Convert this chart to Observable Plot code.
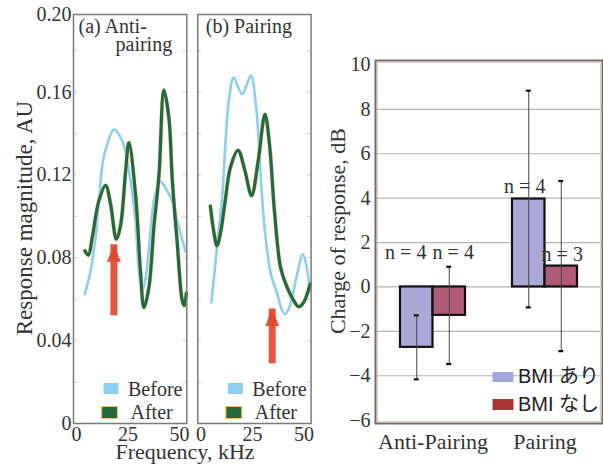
<!DOCTYPE html>
<html><head><meta charset="utf-8">
<script src="https://cdn.jsdelivr.net/npm/d3@7"></script>
<script src="https://cdn.jsdelivr.net/npm/@observablehq/plot@0.6"></script>
<style>
body{margin:0;background:#fff;}
#fig{position:relative;width:603px;height:466px;overflow:hidden;background:#fff;}
.lab{position:absolute;white-space:nowrap;font-family:"Liberation Serif",serif;color:#333;}
</style></head><body><div id="fig"></div>
<script>
// ---------- data: panel (a) Anti-pairing ----------
const freqBeforeA = [4, 6.8, 9.2, 10.8, 12.8, 14.9, 18.1, 22.2, 25.4, 28.6, 30.2, 31.9, 33.5, 35.9, 37.5, 40.6, 43, 46.5, 49.7, 52.9];
const magBeforeA  = [0.0625, 0.0737, 0.0898, 0.107, 0.1267, 0.1348, 0.142, 0.1364, 0.122, 0.0978, 0.0737, 0.064, 0.07, 0.093, 0.1075, 0.117, 0.114, 0.107, 0.0946, 0.083];
const freqAfterA  = [4, 5.7, 7.6, 10.8, 14.1, 16.5, 19.3, 21.4, 23.8, 25.4, 28.6, 31, 32.7, 35.1, 37.5, 40, 42.4, 44.8, 46.5, 48.9, 51.3, 52.3, 53.3];
const magAfterA   = [0.0834, 0.0813, 0.0898, 0.1075, 0.115, 0.1059, 0.089, 0.096, 0.122, 0.1356, 0.1107, 0.0737, 0.056, 0.0657, 0.0946, 0.12, 0.161, 0.1476, 0.117, 0.0866, 0.0593, 0.0569, 0.063];
// ---------- data: panel (b) Pairing ----------
const freqBeforeB = [5.1, 7, 8.6, 10.4, 11.9, 13.5, 15.9, 18, 20.1, 22.2, 24.3, 27, 28.6, 30.2, 31.6, 34, 37.1, 39.5, 41.1, 43.5, 46.7, 49.5, 51.4, 52.9];
const magBeforeB  = [0.0585, 0.077, 0.093, 0.11, 0.135, 0.1557, 0.167, 0.1625, 0.159, 0.1635, 0.168, 0.151, 0.127, 0.1027, 0.088, 0.072, 0.0625, 0.0545, 0.0529, 0.0577, 0.072, 0.0818, 0.0753, 0.064];
const freqAfterB  = [4.6, 6.2, 7.8, 9.4, 11.8, 14.3, 18, 21.4, 24.6, 27.8, 31.1, 33.3, 35.7, 38.7, 41.9, 45.1, 47.5, 49.9, 53];
const magAfterB   = [0.105, 0.093, 0.0858, 0.0914, 0.1075, 0.1235, 0.1319, 0.122, 0.11, 0.1267, 0.1493, 0.1348, 0.1027, 0.0753, 0.0657, 0.0593, 0.0564, 0.0585, 0.0673];
// arrows: frequency, tail and tip magnitude
const arrowFreq = [18.1, 34.6];
const arrowTail = [0.052, 0.0288];
const arrowTip  = [0.0863, 0.0553];
const panelTitles = [["(a) Anti-", "pairing"], ["(b) Pairing"]];
const lineSeries = ["Before", "After"];
const magTicks = [0, 0.04, 0.08, 0.12, 0.16];
const magTopTick = [0.2];
const minorMagTicks = [0.02, 0.04, 0.06, 0.08, 0.10, 0.12, 0.14, 0.16, 0.18];
const freqTicks = [0, 25, 50];

// ---------- data: bar chart ----------
const groups = ["Anti-Pairing", "Pairing"];
const barSeries = ["BMI あり", "BMI なし"];
const valuesAri  = [-2.72, 3.96];
const valuesNashi = [-1.28, 0.94];
const errAri  = [1.44, 4.88];
const errNashi = [2.19, 3.83];
const nAri  = [4, 4];
const nNashi = [4, 3];
const dbTicks = [-6, -4, -2, 0, 2, 4, 6, 8, 10];
const dbGrid = [-4, -2, 0, 2, 4, 6, 8];

const SERIF = '"Liberation Serif", "Times New Roman", serif';
const SANS = '"Liberation Sans", Arial, "Noto Sans CJK JP", sans-serif';
const BLUE = "#8ccff0", GREEN = "#1c6a46", HALO = "#f2c46e", RED = "#e4492c";

const rectSymbol = (w, h) => ({draw(ctx) { ctx.rect(-w / 2, -h / 2, w, h); }});
const headSymbol = {draw(ctx) { ctx.moveTo(0, 0); ctx.lineTo(7, 17); ctx.lineTo(-7, 17); ctx.closePath(); }};

const fig = document.getElementById("fig");
function place(el, left) {
  el.style.position = "absolute"; el.style.left = left + "px"; el.style.top = "0px";
  fig.appendChild(el);
}

function panel(k) {
  const before = (k === 0 ? freqBeforeA : freqBeforeB).map((f, i) => ({f, v: (k === 0 ? magBeforeA : magBeforeB)[i]}));
  const after = (k === 0 ? freqAfterA : freqAfterB).map((f, i) => ({f, v: (k === 0 ? magAfterA : magAfterB)[i]}));
  const arrow = [{f: arrowFreq[k], lo: arrowTail[k], hi: arrowTip[k]}];
  const ml = k === 0 ? 73 : 7.3;
  const width = k === 0 ? 190 : 124;
  const mr = width - ml - 113.3;
  const marks = [
    Plot.tickY(minorMagTicks, {y: d => d, stroke: "#cfcfcf", insetRight: 109.3}),
    Plot.tickY(minorMagTicks, {y: d => d, stroke: "#cfcfcf", insetLeft: 109.3}),
    Plot.line(before, {x: "f", y: "v", stroke: BLUE, strokeWidth: 2.6, curve: "catmull-rom"}),
    Plot.line(after, {x: "f", y: "v", stroke: HALO, strokeWidth: 4.2, strokeOpacity: 0.8, curve: "catmull-rom"}),
    Plot.line(after, {x: "f", y: "v", stroke: GREEN, strokeWidth: 3.2, curve: "catmull-rom"}),
    Plot.ruleX(arrow, {x: "f", y1: "lo", y2: "hi", stroke: RED, strokeWidth: 7, strokeOpacity: 0.92}),
    Plot.dot(arrow, {x: "f", y: "hi", symbol: headSymbol, fill: RED, fillOpacity: 0.92, stroke: "none"}),
    Plot.frame({stroke: "#7a7a7a", strokeWidth: 1.5}),
    Plot.axisX(freqTicks, {tickSize: 0, tickPadding: 3, fontSize: 20, fontFamily: SERIF, label: null}),
    // legend
    Plot.dot([lineSeries[0]], {frameAnchor: "bottom-left", dx: 37.5, dy: -35, symbol: rectSymbol(15, 11), fill: BLUE, stroke: "none"}),
    Plot.dot([lineSeries[1]], {frameAnchor: "bottom-left", dx: 36, dy: -11, symbol: rectSymbol(16, 12), fill: "#236b3c", stroke: HALO, strokeWidth: 1.2}),
    Plot.text([lineSeries[0]], {text: d => d, frameAnchor: "bottom-left", textAnchor: "start", lineAnchor: "bottom", dx: 54.5, dy: -28, fontSize: 20, fontFamily: SERIF}),
    Plot.text([lineSeries[1]], {text: d => d, frameAnchor: "bottom-left", textAnchor: "start", lineAnchor: "bottom", dx: 57, dy: -5, fontSize: 20, fontFamily: SERIF}),
    // title
    Plot.text([panelTitles[k][0]], {text: d => d, frameAnchor: "top-left", textAnchor: "start", lineAnchor: "bottom", dx: k === 0 ? 5 : 8, dy: 18, fontSize: 20, fontFamily: SERIF})
  ];
  if (panelTitles[k][1]) marks.push(Plot.text([panelTitles[k][1]], {text: d => d, frameAnchor: "top-left", textAnchor: "start", lineAnchor: "bottom", dx: 42, dy: 36, fontSize: 20, fontFamily: SERIF}));
  if (k === 0) {
    const fmt = d => d === 0 ? "0" : d.toFixed(2);
    marks.push(Plot.axisY(magTicks, {tickSize: 0, tickPadding: 2, tickFormat: fmt, fontSize: 20, fontFamily: SERIF, label: null}));
    marks.push(Plot.axisY(magTopTick, {tickSize: 0, tickPadding: 2, tickFormat: fmt, fontSize: 20, fontFamily: SERIF, dy: 5, label: null}));
    marks.push(Plot.text(["Response magnitude, AU"], {text: d => d, frameAnchor: "left", textAnchor: "middle", lineAnchor: "middle", rotate: -90, dx: -49, dy: -1, fontSize: 23, fontFamily: SERIF}));
  }
  return Plot.plot({
    width, height: 466, marginLeft: ml, marginRight: mr, marginTop: 14, marginBottom: 43,
    x: {domain: [-1.5, 53.5], axis: null},
    y: {domain: [0, 0.1975], axis: null},
    style: {background: "transparent", color: "#333", fontFamily: SERIF, overflow: "visible"},
    marks
  });
}

place(panel(0), 0);
place(panel(1), 190);

const freqLabel = document.createElement("div");
freqLabel.className = "lab";
freqLabel.style.cssText += "left:85px;width:200px;text-align:center;top:441px;font-size:22px;line-height:22px;";
freqLabel.textContent = "Frequency, kHz";
fig.appendChild(freqLabel);

// ---------- bar chart ----------
const rows = groups.flatMap((g, i) => [
  {group: g, series: barSeries[0], value: valuesAri[i], err: errAri[i], n: nAri[i]},
  {group: g, series: barSeries[1], value: valuesNashi[i], err: errNashi[i], n: nNashi[i]}
]);
const ari = rows.filter(d => d.series === barSeries[0]);
const nashi = rows.filter(d => d.series === barSeries[1]);
const HALF = 32.5, Q = 16.25;
const bar = Plot.plot({
  width: 283, height: 466, marginLeft: 55, marginRight: 1, marginTop: 60, marginBottom: 43,
  x: {domain: groups, type: "band", paddingInner: 0.422, paddingOuter: 0.22, axis: null},
  y: {domain: [-6.15, 10.2], axis: null},
  style: {background: "transparent", color: "#333", fontFamily: SERIF, overflow: "visible"},
  marks: [
    Plot.gridY(dbGrid, {stroke: "#b5b5b5", strokeOpacity: 1, strokeWidth: 1.2}),
    Plot.barY(ari, {x: "group", y: "value", fill: "#aaa8d7", stroke: "#111", strokeWidth: 2.2, insetRight: HALF}),
    Plot.barY(nashi, {x: "group", y: "value", fill: "#b05a78", stroke: "#111", strokeWidth: 2.2, insetLeft: HALF}),
    Plot.ruleX(ari, {x: "group", y1: d => d.value - d.err, y2: d => d.value + d.err, dx: -Q, stroke: "#444", strokeWidth: 1}),
    Plot.ruleX(nashi, {x: "group", y1: d => d.value - d.err, y2: d => d.value + d.err, dx: Q, stroke: "#444", strokeWidth: 1}),
    Plot.tickY(ari, {x: "group", y: d => d.value - d.err, insetLeft: Q - 2.5, insetRight: HALF + Q - 2.5, stroke: "#111", strokeWidth: 2.2}),
    Plot.tickY(ari, {x: "group", y: d => d.value + d.err, insetLeft: Q - 2.5, insetRight: HALF + Q - 2.5, stroke: "#111", strokeWidth: 2.2}),
    Plot.tickY(nashi, {x: "group", y: d => d.value - d.err, insetLeft: HALF + Q - 2.5, insetRight: Q - 2.5, stroke: "#111", strokeWidth: 2.2}),
    Plot.tickY(nashi, {x: "group", y: d => d.value + d.err, insetLeft: HALF + Q - 2.5, insetRight: Q - 2.5, stroke: "#111", strokeWidth: 2.2}),
    Plot.text(ari.filter(d => d.group === groups[0]), {x: "group", y: d => Math.max(d.value, 0), text: d => `n = ${d.n}`, dx: -Q - 11, dy: -34, fontSize: 20, fontFamily: SERIF}),
    Plot.text(nashi.filter(d => d.group === groups[0]), {x: "group", y: d => Math.max(d.value, 0), text: d => `n = ${d.n}`, dx: Q + 4, dy: -34, fontSize: 20, fontFamily: SERIF}),
    Plot.text(ari.filter(d => d.group === groups[1]), {x: "group", y: d => Math.max(d.value, 0), text: d => `n = ${d.n}`, dx: -Q - 4, dy: -12, fontSize: 20, fontFamily: SERIF}),
    Plot.text(nashi.filter(d => d.group === groups[1]), {x: "group", y: d => Math.max(d.value, 0), text: d => `n = ${d.n}`, dx: Q + 1, dy: -11, fontSize: 20, fontFamily: SERIF}),
    Plot.frame({stroke: "#f3cdb8", strokeWidth: 1, inset: 2}),
    Plot.frame({stroke: "#6e6e6e", strokeWidth: 2}),
    Plot.axisY(dbTicks, {tickSize: 0, tickPadding: 5, fontSize: 20, fontFamily: SERIF, label: null}),
    Plot.axisX(groups, {tickSize: 0, tickPadding: 10, fontSize: 22, fontFamily: SERIF, label: null}),
    Plot.text(["Charge of response, dB"], {text: d => d, frameAnchor: "left", textAnchor: "middle", lineAnchor: "middle", rotate: -90, dx: -38, dy: -11, fontSize: 22, fontFamily: SERIF}),
    // legend
    Plot.dot([barSeries[0]], {frameAnchor: "bottom-right", dx: -99.5, dy: -46.5, symbol: rectSymbol(21, 10), fill: "#a3a7dc", stroke: "none"}),
    Plot.dot([barSeries[1]], {frameAnchor: "bottom-right", dx: -99.5, dy: -19, symbol: rectSymbol(21, 11), fill: "#a8352f", stroke: "none"}),
    Plot.text([barSeries[0]], {text: d => d, frameAnchor: "bottom-right", textAnchor: "start", lineAnchor: "bottom", dx: -84.5, dy: -41, fontSize: 20, fontFamily: SANS, fill: "#222"}),
    Plot.text([barSeries[1]], {text: d => d, frameAnchor: "bottom-right", textAnchor: "start", lineAnchor: "bottom", dx: -84.5, dy: -13, fontSize: 20, fontFamily: SANS, fill: "#222"})
  ]
});
place(bar, 320);
</script></body></html>
